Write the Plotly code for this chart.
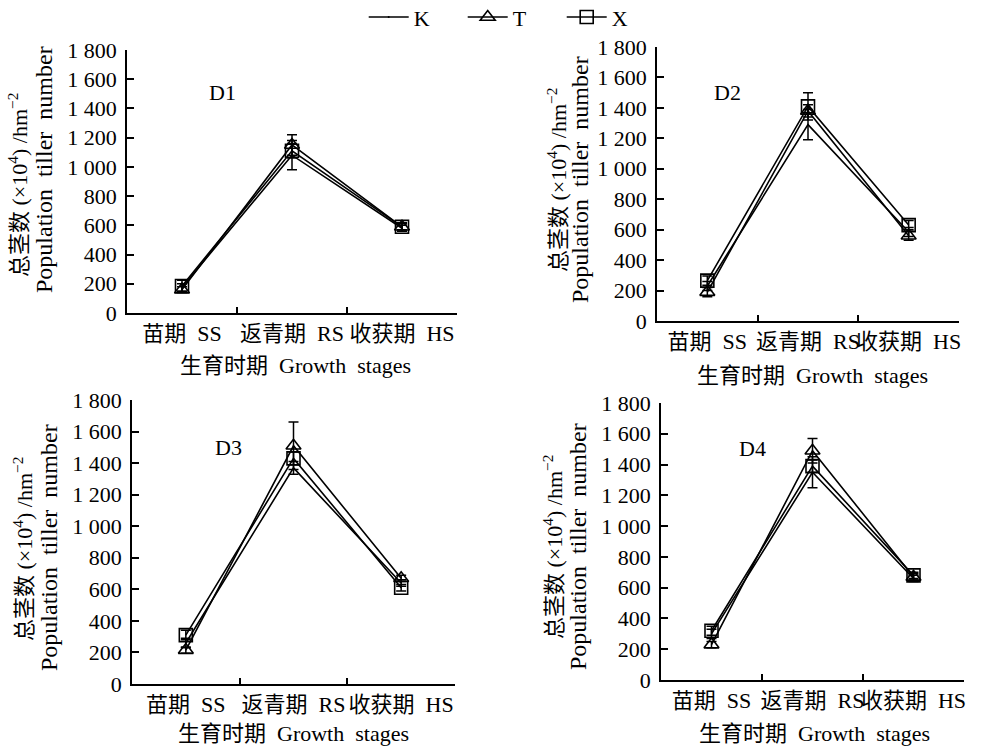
import plotly.graph_objects as go

W, H = 983, 748

NB = "\u00a0"
stages = ["苗期" + NB * 2 + "SS", "返青期" + NB * 2 + "RS", "收获期" + NB * 2 + "HS"]
y_tickvals = [0, 200, 400, 600, 800, 1000, 1200, 1400, 1600, 1800]
y_ticktext = ["0", "200", "400", "600", "800", "1 000", "1 200", "1 400", "1 600", "1 800"]
panel_labels = ["D1", "D2", "D3", "D4"]
series_names = ["K", "T", "X"]

# values (×10^4 /hm^2)
D1_K = [175, 1080, 580]
D1_K_err = [25, 100, 20]
D1_T = [160, 1150, 590]
D1_T_err = [20, 70, 20]
D1_X = [185, 1110, 590]
D1_X_err = [40, 50, 30]

D2_K = [230, 1290, 585]
D2_K_err = [30, 100, 30]
D2_T = [190, 1380, 560]
D2_T_err = [30, 40, 30]
D2_X = [265, 1410, 630]
D2_X_err = [30, 90, 30]

D3_K = [260, 1370, 640]
D3_K_err = [30, 40, 20]
D3_T = [215, 1510, 670]
D3_T_err = [20, 150, 20]
D3_X = [310, 1430, 610]
D3_X_err = [30, 40, 20]

D4_K = [300, 1350, 660]
D4_K_err = [30, 100, 20]
D4_T = [230, 1490, 670]
D4_T_err = [20, 80, 20]
D4_X = [320, 1390, 680]
D4_X_err = [30, 40, 20]

panels = [
    (D1_K, D1_K_err, D1_T, D1_T_err, D1_X, D1_X_err),
    (D2_K, D2_K_err, D2_T, D2_T_err, D2_X, D2_X_err),
    (D3_K, D3_K_err, D3_T, D3_T_err, D3_X, D3_X_err),
    (D4_K, D4_K_err, D4_T, D4_T_err, D4_X, D4_X_err),
]

FONT = "Liberation Serif, 'Times New Roman', 'Noto Sans CJK SC', serif"
FS = 22

# pixel boxes of the plot areas: (left, right, top, bottom)
boxes = [(127, 457, 50, 313), (657, 959, 47, 321), (132, 455, 400, 684), (661, 964, 403, 680)]


def px(x):
    return x / W


def py(y):
    return 1 - y / H


fig = go.Figure()

for i, (K, Ke, T, Te, X, Xe) in enumerate(panels):
    ax = "" if i == 0 else str(i + 1)
    show = i == 0
    common = dict(xaxis="x" + ax, yaxis="y" + ax, mode="lines+markers", showlegend=show)
    fig.add_trace(go.Scatter(
        x=stages, y=K, name=series_names[0],
        line=dict(color="black", width=1.6),
        marker=dict(size=1, color="black"),
        error_y=dict(type="data", array=Ke, color="black", thickness=1.5, width=5),
        **common))
    fig.add_trace(go.Scatter(
        x=stages, y=T, name=series_names[1],
        line=dict(color="black", width=1.6),
        marker=dict(symbol="triangle-up-open", size=13, color="black", line=dict(width=1.6, color="black")),
        error_y=dict(type="data", array=Te, color="black", thickness=1.5, width=5),
        **common))
    fig.add_trace(go.Scatter(
        x=stages, y=X, name=series_names[2],
        line=dict(color="black", width=1.6),
        marker=dict(symbol="square-open", size=13, color="black", line=dict(width=1.6, color="black")),
        error_y=dict(type="data", array=Xe, color="black", thickness=1.5, width=5),
        **common))

layout = dict(
    width=W, height=H,
    margin=dict(l=0, r=0, t=0, b=0, autoexpand=False),
    paper_bgcolor="white", plot_bgcolor="white",
    font=dict(family=FONT, size=FS, color="black"),
    legend=dict(orientation="h", x=0.370, xanchor="left", y=1.005, yanchor="top",
                font=dict(size=FS, family=FONT), itemwidth=40, entrywidth=44,
                entrywidthmode="pixels", bgcolor="rgba(0,0,0,0)"),
)

annotations = []
ytitle_x = [(18, 44), (557, 580), (23, 49), (553, 578)]
ytitle_cy = [(185, 170), (180, 180), (549, 548), (547, 547)]
xtitle_pos = [(295, 365), (812, 375), (293, 733), (814, 733)]
label_pos = [(222, 93), (727, 93), (228, 448), (752, 449)]

for i, (l, r, t, b) in enumerate(boxes):
    ax = "" if i == 0 else str(i + 1)
    layout["xaxis" + ax] = dict(
        domain=[px(l), px(r)], anchor="y" + ax, automargin=False,
        type="category", categoryorder="array", categoryarray=stages,
        range=[-0.5, 2.5], tickson="boundaries", ticks="inside", ticklen=6,
        tickwidth=1.5, tickcolor="black", tickangle=0,
        showline=True, linecolor="black", linewidth=1.5, showgrid=False, zeroline=False,
        tickfont=dict(size=FS, family=FONT), ticklabelstandoff=0,
    )
    layout["yaxis" + ax] = dict(
        domain=[py(b), py(t)], anchor="x" + ax, automargin=False,
        range=[0, 1800], tickvals=y_tickvals, ticktext=y_ticktext,
        ticks="inside", ticklen=7, tickwidth=1.5, tickcolor="black",
        showline=True, linecolor="black", linewidth=1.5, showgrid=False, zeroline=False,
        tickfont=dict(size=FS, family=FONT), ticklabelstandoff=4,
    )
    annotations.append(dict(
        x=px(ytitle_x[i][0]), y=py(ytitle_cy[i][0]), xref="paper", yref="paper",
        text="总茎数" + NB + "(×10<sup>4</sup>)" + NB + "/hm<sup>−2</sup>", textangle=-90,
        showarrow=False, font=dict(size=22, family=FONT), xanchor="center", yanchor="middle"))
    annotations.append(dict(
        x=px(ytitle_x[i][1]), y=py(ytitle_cy[i][1]), xref="paper", yref="paper",
        text="Population" + NB * 2 + "tiller" + NB * 2 + "number", textangle=-90,
        showarrow=False, font=dict(size=24, family=FONT), xanchor="center", yanchor="middle"))
    annotations.append(dict(
        x=px(xtitle_pos[i][0]), y=py(xtitle_pos[i][1]), xref="paper", yref="paper",
        text="生育时期" + NB * 2 + "Growth" + NB * 2 + "stages", showarrow=False,
        font=dict(size=FS, family=FONT), xanchor="center", yanchor="middle"))
    annotations.append(dict(
        x=px(label_pos[i][0]), y=py(label_pos[i][1]), xref="paper", yref="paper",
        text=panel_labels[i], showarrow=False,
        font=dict(size=FS, family=FONT), xanchor="center", yanchor="middle"))

layout["annotations"] = annotations
fig.update_layout(**layout)

fig.write_html("out.html")
